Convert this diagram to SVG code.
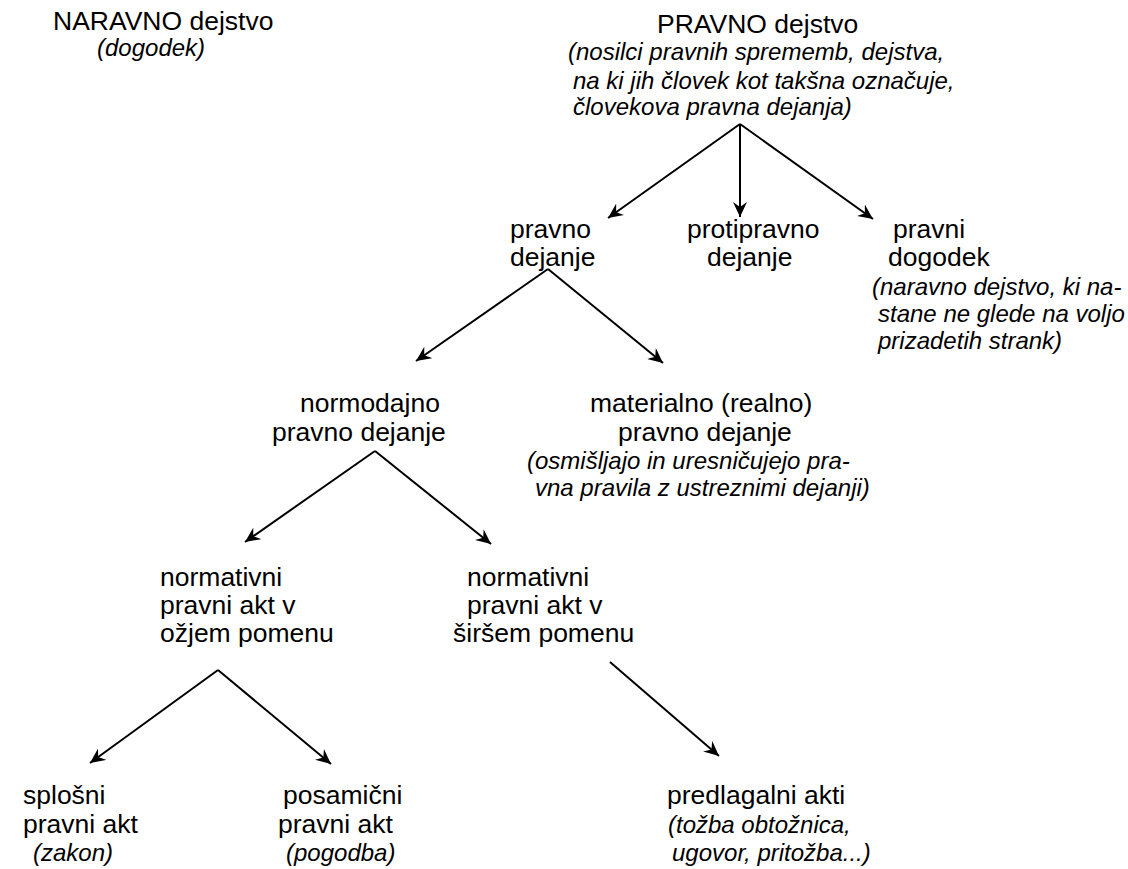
<svg xmlns="http://www.w3.org/2000/svg" width="1128" height="869" viewBox="0 0 1128 869">
<style>
.t{font-family:"Liberation Sans",Arial,sans-serif;font-size:26.5px;fill:#000}
.i{font-family:"Liberation Sans",Arial,sans-serif;font-size:24px;font-style:italic;fill:#000}
.c{stroke:#000;stroke-width:2;fill:none;marker-end:url(#ah)}
</style>
<defs>
<marker id="ah" markerUnits="userSpaceOnUse" markerWidth="16" markerHeight="14" refX="15" refY="7" orient="auto" viewBox="0 0 16 14">
<path d="M0,0 L15,7 L0,14 L5,7 z" fill="#000"/>
</marker>
</defs>
<rect width="1128" height="869" fill="#fff"/>
<g id="connectors">
<line class="c" x1="740" y1="124" x2="608" y2="218"/>
<line class="c" x1="740" y1="124" x2="740" y2="217"/>
<line class="c" x1="740" y1="124" x2="873" y2="219"/>
<line class="c" x1="548" y1="269" x2="416" y2="361"/>
<line class="c" x1="548" y1="269" x2="663" y2="363"/>
<line class="c" x1="375" y1="451" x2="245" y2="542"/>
<line class="c" x1="375" y1="451" x2="491" y2="544"/>
<line class="c" x1="218" y1="670" x2="90" y2="763"/>
<line class="c" x1="218" y1="670" x2="331" y2="764"/>
<line class="c" x1="610" y1="662" x2="719" y2="756"/>
</g>
<g id="naravno">
<text class="t" x="53" y="30">NARAVNO dejstvo</text>
<text class="i" x="97" y="56">(dogodek)</text>
</g>
<g id="pravno-dejstvo">
<text class="t" x="657" y="33">PRAVNO dejstvo</text>
<text class="i" x="568" y="60">(nosilci pravnih sprememb, dejstva,</text>
<text class="i" x="573" y="89">na ki jih človek kot takšna označuje,</text>
<text class="i" x="573" y="115">človekova pravna dejanja)</text>
</g>
<g id="pravno-dejanje">
<text class="t" x="510" y="238">pravno</text>
<text class="t" x="510" y="266">dejanje</text>
</g>
<g id="protipravno">
<text class="t" x="687" y="238">protipravno</text>
<text class="t" x="707" y="266">dejanje</text>
</g>
<g id="pravni-dogodek">
<text class="t" x="893" y="238">pravni</text>
<text class="t" x="888" y="266">dogodek</text>
<text class="i" x="872" y="295">(naravno dejstvo, ki na-</text>
<text class="i" x="878" y="322">stane ne glede na voljo</text>
<text class="i" x="878" y="349">prizadetih strank)</text>
</g>
<g id="normodajno">
<text class="t" x="300" y="412">normodajno</text>
<text class="t" x="272" y="441">pravno dejanje</text>
</g>
<g id="materialno">
<text class="t" x="590" y="412">materialno (realno)</text>
<text class="t" x="618" y="441">pravno dejanje</text>
<text class="i" x="527" y="469">(osmišljajo in uresničujejo pra-</text>
<text class="i" x="535" y="496">vna pravila z ustreznimi dejanji)</text>
</g>
<g id="ozji">
<text class="t" x="160" y="586">normativni</text>
<text class="t" x="160" y="614">pravni akt v</text>
<text class="t" x="160" y="642">ožjem pomenu</text>
</g>
<g id="sirsi">
<text class="t" x="467" y="586">normativni</text>
<text class="t" x="467" y="614">pravni akt v</text>
<text class="t" x="453" y="642">širšem pomenu</text>
</g>
<g id="splosni">
<text class="t" x="23" y="804">splošni</text>
<text class="t" x="23" y="833">pravni akt</text>
<text class="i" x="33" y="861">(zakon)</text>
</g>
<g id="posamicni">
<text class="t" x="283" y="804">posamični</text>
<text class="t" x="278" y="833">pravni akt</text>
<text class="i" x="286" y="861">(pogodba)</text>
</g>
<g id="predlagalni">
<text class="t" x="667" y="804">predlagalni akti</text>
<text class="i" x="668" y="833">(tožba obtožnica,</text>
<text class="i" x="672" y="861">ugovor, pritožba...)</text>
</g>
</svg>
